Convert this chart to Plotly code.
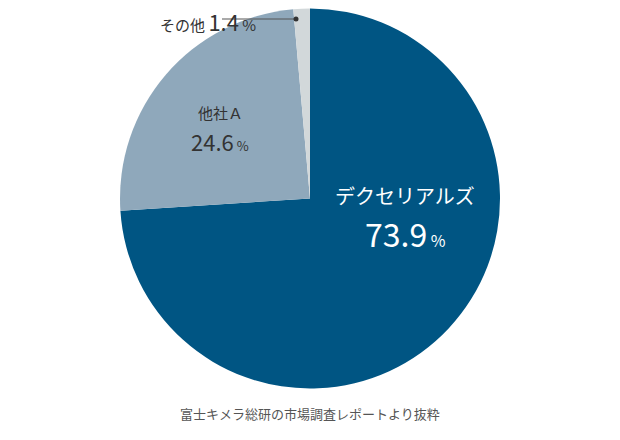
import plotly.graph_objects as go

labels = ['デクセリアルズ', '他社A', 'その他']
values = [73.9, 24.6, 1.4]
colors = ['#005583', '#8fa8bb', '#d2d8da']

# page has an 8px body margin, so draw on a 604x424 canvas and subtract 8 from reference coords
W, H = 604, 424
def px(x):
    return (x - 8) / W
def py(y):
    return 1 - (y - 8) / H

fig = go.Figure(go.Pie(labels=labels, values=values, sort=False, direction='clockwise',
                       rotation=0, marker=dict(colors=colors, line=dict(width=0)),
                       textinfo='none', hoverinfo='label+percent', showlegend=False,
                       domain=dict(x=[px(120), px(500)], y=[py(389), py(8)])))

fig.update_layout(
    width=W, height=H, margin=dict(l=0, r=0, t=0, b=0),
    paper_bgcolor='white', font=dict(family='Noto Sans CJK JP'),
)

ann = [
    dict(x=px(405), y=py(195), text='デクセリアルズ', font=dict(size=20, color='white')),
    dict(x=px(405), y=py(233),
         text='73.9<span style="font-size:16px"> %</span>', font=dict(size=32, color='white')),
    dict(x=px(220), y=py(113), text='他社Ａ', font=dict(size=15, color='#333')),
    dict(x=px(220), y=py(141),
         text='24.6<span style="font-size:13px"> %</span>', font=dict(size=22, color='#333')),
    dict(x=px(158), y=py(21),
         text='<span style="font-size:15px">その他 </span>1.4<span style="font-size:15px"> %</span>',
         font=dict(size=22, color='#333')),
    dict(x=px(310), y=py(413), text='富士キメラ総研の市場調査レポートより抜粋',
         font=dict(size=13, color='#555')),
]
for a in ann:
    a.update(xref='paper', yref='paper', showarrow=False, yanchor='middle')
fig.update_layout(annotations=ann)

fig.add_shape(type='line', xref='paper', yref='paper', x0=px(222), x1=px(296),
              y0=py(19), y1=py(19), line=dict(color='#555', width=1))
fig.add_shape(type='circle', xref='paper', yref='paper', x0=px(293.5), x1=px(298.5),
              y0=py(21.5), y1=py(16.5), fillcolor='#333', line=dict(width=0))

fig.write_html("out.html")
